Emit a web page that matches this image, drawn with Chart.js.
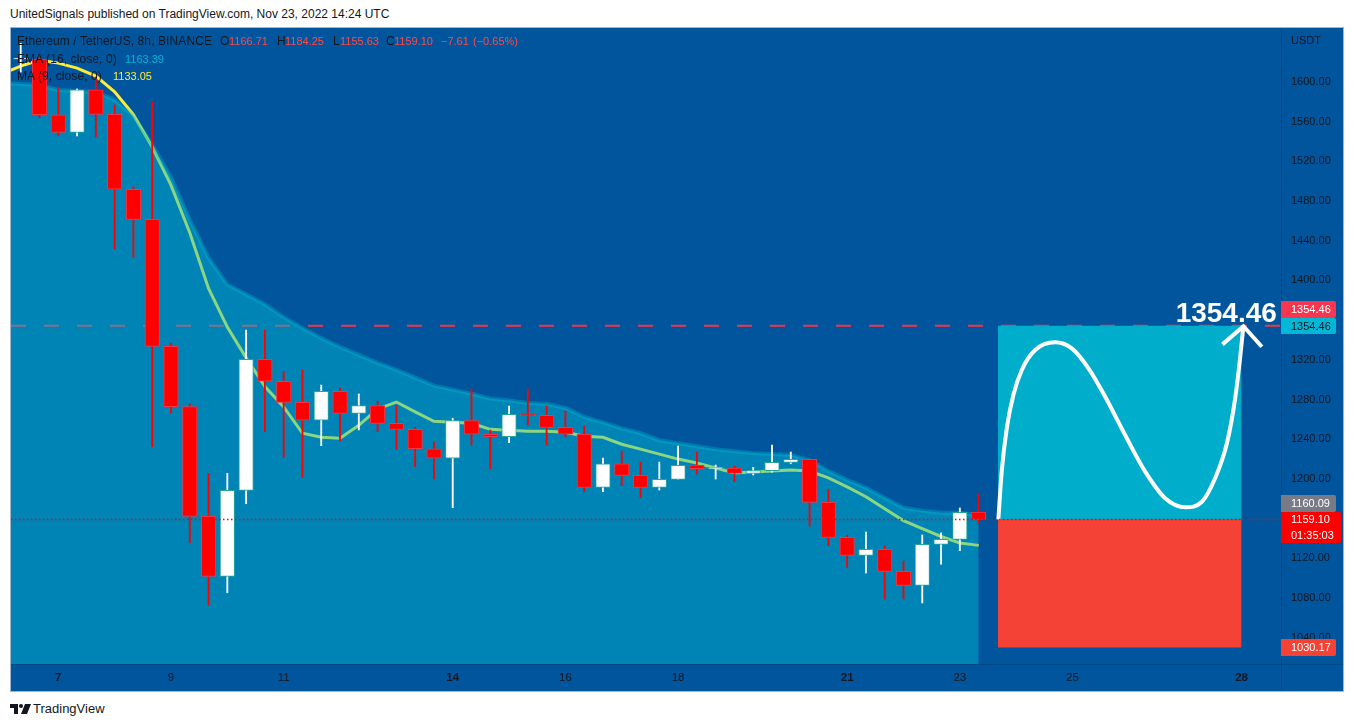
<!DOCTYPE html>
<html>
<head>
<meta charset="utf-8">
<title>ETHUSDT 8h</title>
<script src="https://cdn.jsdelivr.net/npm/chart.js@4/dist/chart.umd.min.js"></script>
<style>
    html, body { margin: 0; padding: 0; background: #fff; width: 1354px; height: 727px; overflow: hidden; }
    body { font-family: "Liberation Sans", sans-serif; color: #131722; position: relative; }
    #frame { position: absolute; left: 10px; top: 27px; width: 1332px; height: 663px; border: 1px solid #9fb6cf; background: #00559c; }
    #frame canvas { position: absolute; left: 0; top: 0; }
    .t { position: absolute; white-space: nowrap; font-size: 12px; line-height: 14px; letter-spacing: 0.1px; }
    .v { font-size: 11px; letter-spacing: 0; }
    #publisher { position: absolute; left: 10px; top: 7px; font-size: 12px; line-height: 14px; white-space: nowrap; }
    #brand { position: absolute; left: 33px; top: 701px; font-size: 13px; line-height: 16px; }
    #logo { position: absolute; left: 10px; top: 704px; }
</style>
</head>
<body>
<div id="publisher">UnitedSignals published on TradingView.com, Nov 23, 2022 14:24 UTC</div>
<div id="frame">
    <canvas id="priceChart" width="1332" height="663"></canvas>
</div>
<div class="t" style="left:17px;top:34px">Ethereum / TetherUS, 8h, BINANCE</div>
<div class="t" style="left:220px;top:34px">O</div>
<div class="t v" style="left:229px;top:34px;color:#ff4a4a">1166.71</div>
<div class="t" style="left:277px;top:34px">H</div>
<div class="t v" style="left:285px;top:34px;color:#ff4a4a">1184.25</div>
<div class="t" style="left:333px;top:34px">L</div>
<div class="t v" style="left:340px;top:34px;color:#ff4a4a">1155.63</div>
<div class="t" style="left:386px;top:34px">C</div>
<div class="t v" style="left:394px;top:34px;color:#ff4a4a">1159.10</div>
<div class="t v" style="left:441px;top:34px;color:#ff4a4a">−7.61</div>
<div class="t v" style="left:473px;top:34px;color:#ff4a4a">(−0.65%)</div>
<div class="t" style="left:17px;top:52px">EMA (16, close, 0)</div>
<div class="t v" style="left:125px;top:52px;color:#00b4d8">1163.39</div>
<div class="t" style="left:17px;top:69px">MA (9, close, 0)</div>
<div class="t v" style="left:113px;top:69px;color:#ffeb3b">1133.05</div>
<svg id="logo" width="21" height="11" viewBox="0 0 21 11"><path fill="#131722" d="M0 0h8v10h-4v-6h-4z"/><circle fill="#131722" cx="11" cy="2" r="2"/><path fill="#131722" d="M15 0h6l-4 10h-6z"/></svg>
<div id="brand">TradingView</div>

<script>
// candles, one per 8h, index 0 is the first fully visible one
const candleIndex = [-1, 0, 1, 2, 3, 4, 5, 6, 7, 8, 9, 10, 11, 12, 13, 14, 15, 16, 17, 18, 19, 20, 21, 22, 23, 24, 25, 26, 27, 28, 29, 30, 31, 32, 33, 34, 35, 36, 37, 38, 39, 40, 41, 42, 43, 44, 45, 46, 47, 48, 49, 50];
const opens = [1623, 1623, 1567, 1549.3, 1592, 1567.4, 1491.9, 1461.6, 1333.6, 1272.8, 1162.3, 1101.8, 1188.5, 1320.5, 1298.4, 1277.2, 1259.1, 1288.3, 1266.1, 1273.8, 1256, 1250, 1230.4, 1220.8, 1258.7, 1245, 1242.5, 1265.1, 1264.1, 1252, 1245, 1191.5, 1215.3, 1203.6, 1191.5, 1199.6, 1214, 1210, 1211, 1205.6, 1208.3, 1216.7, 1219.8, 1176.4, 1141.1, 1123, 1129, 1106.9, 1092.8, 1134.1, 1139.1, 1166.71];
const highs = [1639, 1625, 1594.7, 1593, 1605, 1576.8, 1494.5, 1580.1, 1336.7, 1276.2, 1205.6, 1205.6, 1350, 1350, 1308.4, 1309.8, 1294.6, 1291.6, 1285.6, 1278.2, 1274.2, 1252, 1237.5, 1261.1, 1290.6, 1249.3, 1273.5, 1290.6, 1273.5, 1268.4, 1253.3, 1221, 1228.1, 1217, 1217, 1233.2, 1227.1, 1214, 1213, 1211.7, 1234.2, 1227.1, 1219.8, 1189.5, 1143.2, 1146.5, 1132.4, 1117.3, 1143.5, 1145.8, 1170.7, 1184.25];
const lows = [1610, 1564, 1545.9, 1545.6, 1544.9, 1431.7, 1423.3, 1232.5, 1266.7, 1135.7, 1072.9, 1085.3, 1175, 1247.6, 1221.8, 1201.6, 1233.5, 1238.5, 1249.3, 1247.6, 1230, 1212.3, 1199.9, 1171, 1234.2, 1210, 1236.5, 1254.3, 1233.5, 1242.2, 1187.1, 1187.1, 1193.2, 1181, 1188.8, 1199.6, 1205, 1199.9, 1197.2, 1204, 1206.7, 1215.3, 1152.5, 1132.7, 1110.9, 1105.2, 1079, 1079, 1075, 1114.2, 1127.7, 1155.63];
const closes = [1624, 1567, 1549.3, 1592, 1567.4, 1491.9, 1461.6, 1333.6, 1272.8, 1162.3, 1101.8, 1188.5, 1320.5, 1298.4, 1277.2, 1259.1, 1288.3, 1266.1, 1273.8, 1256, 1250, 1230.4, 1220.8, 1258.7, 1245, 1242.5, 1265.1, 1264.1, 1252, 1245, 1191.5, 1215.3, 1203.6, 1191.5, 1199.6, 1213.7, 1210.3, 1211.7, 1205.6, 1208.3, 1216.7, 1219.8, 1176.4, 1141.1, 1123, 1129, 1106.9, 1092.8, 1134.1, 1139.1, 1166.4, 1159.10];

// indicators, these start one candle before the left edge
const indicatorIndex = [-2, -1, 0, 1, 2, 3, 4, 5, 6, 7, 8, 9, 10, 11, 12, 13, 14, 15, 16, 17, 18, 19, 20, 21, 22, 23, 24, 25, 26, 27, 28, 29, 30, 31, 32, 33, 34, 35, 36, 37, 38, 39, 40, 41, 42, 43, 44, 45, 46, 47, 48, 49, 50];
const emaValues = [1599, 1598, 1597, 1592, 1591, 1590, 1582, 1566, 1537, 1504, 1461, 1423, 1396, 1386, 1376, 1363, 1352, 1342, 1333, 1325, 1317, 1310, 1302, 1294, 1290, 1286, 1281, 1279, 1276.5, 1275.5, 1271.5, 1262.5, 1257, 1251, 1246, 1239, 1236, 1233, 1230, 1228, 1226, 1225, 1224, 1219, 1208, 1199, 1191, 1181, 1171, 1168, 1166, 1166, 1163.39];
const maValues = [1608, 1616, 1622, 1619, 1614, 1606, 1590, 1567, 1534.5, 1496, 1448, 1392, 1353, 1322, 1293, 1272.5, 1246, 1242, 1241, 1254, 1270.5, 1277.5, 1267.5, 1258, 1257, 1256, 1250, 1249, 1248, 1248, 1247, 1243, 1242, 1235, 1230, 1225, 1220, 1216, 1211, 1206, 1207, 1208, 1209, 1208, 1201, 1192, 1182, 1170, 1158, 1150, 1142, 1135.5, 1133.05];

// position tool and the hand drawn forecast
const entryPrice = 1159.10;
const targetPrice = 1354.46;
const stopPrice = 1030.17;
const boxFrom = 51.03;
const boxTo = 64;
const curveIndex = [51.05, 51.23, 51.5, 51.85, 52.3, 53.01, 54.07, 54.96, 55.85, 56.74, 57.8, 58.87, 59.93, 61, 61.89, 62.59, 63.22, 63.66, 63.92, 64.1];
const curveValues = [1159.1, 1207.3, 1251, 1284.6, 1309.8, 1329.9, 1337.7, 1331.6, 1311.5, 1282.8, 1244.2, 1207.3, 1180.5, 1171.4, 1177, 1200.6, 1235.9, 1281.2, 1321.5, 1354.46];
const arrowIndex = [62.98, 64.1, 65.08];
const arrowValues = [1335.6, 1353.9, 1333.2];

// axis ticks
const priceTicks = [1040, 1080, 1120, 1160, 1200, 1240, 1280, 1320, 1360, 1400, 1440, 1480, 1520, 1560, 1600];
const dayTicks = [1, 7, 13, 22, 28, 34, 43, 49, 55, 64];
const dayLabels = ['7', '9', '11', '14', '16', '18', '21', '23', '25', '28'];
const boldDays = ['7', '14', '21', '28'];

const lastLabel = '1159.10';
const countdown = '01:35:03';
const prevLabel = '1160.09';

const xMin = -1.518;
const xMax = 66.1;
const yMin = 1013.5;
const yMax = 1654.4;

function hline(price) {
    return [{ x: xMin, y: price }, { x: xMax, y: price }];
}

function zip(xs, ys) {
    return xs.map(function(x, i) { return { x: x, y: ys[i] }; });
}

const isUp = closes.map(function(c, i) { return c >= opens[i]; });

// price tags, big label and separators
const overlayPlugin = {
    id: 'overlay',
    afterDraw: function(chart) {
        const c = chart.ctx;
        const y = chart.scales.y;
        const x = chart.scales.x;
        const area = chart.chartArea;

        c.save();
        c.strokeStyle = 'rgba(19,23,34,0.18)';
        c.lineWidth = 1;
        c.beginPath();
        c.moveTo(area.right + 0.5, 0);
        c.lineTo(area.right + 0.5, chart.height);
        c.moveTo(0, area.bottom + 0.5);
        c.lineTo(chart.width, area.bottom + 0.5);
        c.stroke();

        function tag(price, offset, h, w, bg, fg, lines) {
            const top = Math.round(y.getPixelForValue(price) + offset - h / 2);
            c.fillStyle = bg;
            c.beginPath();
            c.roundRect(area.right, top, w, h, [0, 2, 2, 0]);
            c.fill();
            c.fillStyle = fg;
            c.font = '11px "Liberation Sans"';
            c.textBaseline = 'middle';
            c.textAlign = 'left';
            lines.forEach(function(line, i) {
                c.fillText(line, area.right + 10, top + h / lines.length * (i + 0.5) + 0.5);
            });
        }

        tag(targetPrice, 0, 16, 55, '#00b7d6', '#131722', [String(targetPrice)]);
        tag(targetPrice, -16, 17, 55, '#f7374f', '#ffffff', [String(targetPrice)]);
        tag(1160.09, -15, 17, 55, '#787b86', '#ffffff', [prevLabel]);
        tag(entryPrice, 8, 31, 60, '#ff0000', '#ffffff', [lastLabel, countdown]);
        tag(stopPrice, 0, 17, 55, '#f44336', '#ffffff', [String(stopPrice)]);

        c.fillStyle = '#131722';
        c.font = '11px "Liberation Sans"';
        c.textAlign = 'left';
        c.textBaseline = 'middle';
        c.fillText('USDT', area.right + 10, 13);

        c.fillStyle = '#ffffff';
        c.font = 'bold 28px "Liberation Sans"';
        c.textAlign = 'right';
        c.textBaseline = 'alphabetic';
        c.fillText(String(targetPrice), x.getPixelForValue(65.88), y.getPixelForValue(targetPrice) - 4);
        c.restore();
    }
};

document.addEventListener('DOMContentLoaded', function() {
    const ctx = document.getElementById('priceChart').getContext('2d');
    new Chart(ctx, {
        type: 'line',
        data: {
            datasets: [
                // last price, dotted, on top
                { data: hline(entryPrice), borderColor: '#ff0000', borderWidth: 1.5, borderDash: [1.5, 2.5], pointRadius: 0, order: 0 },
                // candle bodies
                {
                    type: 'bar',
                    data: candleIndex.map(function(x, i) { return { x: x, y: [opens[i], closes[i]] }; }),
                    backgroundColor: isUp.map(function(u) { return u ? '#ffffff' : '#ff0000'; }),
                    borderColor: isUp.map(function(u) { return u ? '#26a69a' : '#f23645'; }),
                    borderWidth: 1,
                    borderSkipped: false,
                    barThickness: 14.5,
                    grouped: false,
                    order: 1
                },
                // candle wicks
                {
                    type: 'bar',
                    data: candleIndex.map(function(x, i) { return { x: x, y: [lows[i], highs[i]] }; }),
                    backgroundColor: isUp.map(function(u) { return u ? '#ffffff' : '#ff0000'; }),
                    borderWidth: 0,
                    barThickness: 1.2,
                    grouped: false,
                    order: 2
                },
                // forecast curve and arrow head
                { data: zip(curveIndex, curveValues), borderColor: '#ffffff', borderWidth: 4, cubicInterpolationMode: 'monotone', pointRadius: 0, order: 3 },
                { data: zip(arrowIndex, arrowValues), borderColor: '#ffffff', borderWidth: 4, pointRadius: 0, order: 3 },
                // position boxes
                { data: [{ x: boxFrom, y: targetPrice }, { x: boxTo, y: targetPrice }], borderWidth: 0, pointRadius: 0, fill: { value: entryPrice }, backgroundColor: '#00aecc', order: 4 },
                { data: [{ x: boxFrom, y: stopPrice }, { x: boxTo, y: stopPrice }], borderWidth: 0, pointRadius: 0, fill: { value: entryPrice }, backgroundColor: '#f44336', order: 4 },
                // EMA area lies over the MA and the dashed level
                { data: zip(indicatorIndex, emaValues), borderColor: 'rgba(0,188,212,0.35)', borderWidth: 4, backgroundColor: 'rgba(0,188,212,0.45)', fill: 'start', pointRadius: 0, tension: 0, order: 5 },
                { data: hline(targetPrice), borderColor: '#f23645', borderWidth: 2, borderDash: [15, 18], pointRadius: 0, order: 6 },
                { data: zip(indicatorIndex, maValues), borderColor: '#ffeb3b', borderWidth: 3, pointRadius: 0, tension: 0, order: 7 }
            ]
        },
        options: {
            responsive: false,
            animation: false,
            layout: { padding: 0, autoPadding: false },
            plugins: {
                legend: { display: false },
                tooltip: { enabled: false }
            },
            scales: {
                x: {
                    type: 'linear',
                    offset: false,
                    min: xMin,
                    max: xMax,
                    grid: { display: false, drawTicks: false },
                    border: { display: false },
                    afterBuildTicks: function(scale) {
                        scale.ticks = dayTicks.map(function(v) { return { value: v }; });
                    },
                    afterFit: function(scale) {
                        scale.height = 27;
                        scale.paddingLeft = 0;
                        scale.paddingRight = 0;
                    },
                    ticks: {
                        autoSkip: false,
                        maxRotation: 0,
                        padding: 7,
                        color: '#131722',
                        callback: function(value) { return dayLabels[dayTicks.indexOf(value)]; },
                        font: function(ctx) {
                            const label = dayLabels[ctx.index];
                            return { family: 'Liberation Sans', size: 11.5, weight: boldDays.indexOf(label) >= 0 ? 'bold' : 'normal' };
                        }
                    }
                },
                y: {
                    type: 'linear',
                    position: 'right',
                    min: yMin,
                    max: yMax,
                    grid: { display: false, drawTicks: false },
                    border: { display: false },
                    afterBuildTicks: function(scale) {
                        scale.ticks = priceTicks.map(function(v) { return { value: v }; });
                    },
                    afterFit: function(scale) {
                        scale.width = 62;
                        scale.paddingTop = 0;
                        scale.paddingBottom = 0;
                    },
                    ticks: {
                        padding: 10,
                        color: '#131722',
                        font: { family: 'Liberation Sans', size: 11 },
                        callback: function(value) { return value.toFixed(2); }
                    }
                }
            }
        },
        plugins: [overlayPlugin]
    });
});
</script>
</body>
</html>
